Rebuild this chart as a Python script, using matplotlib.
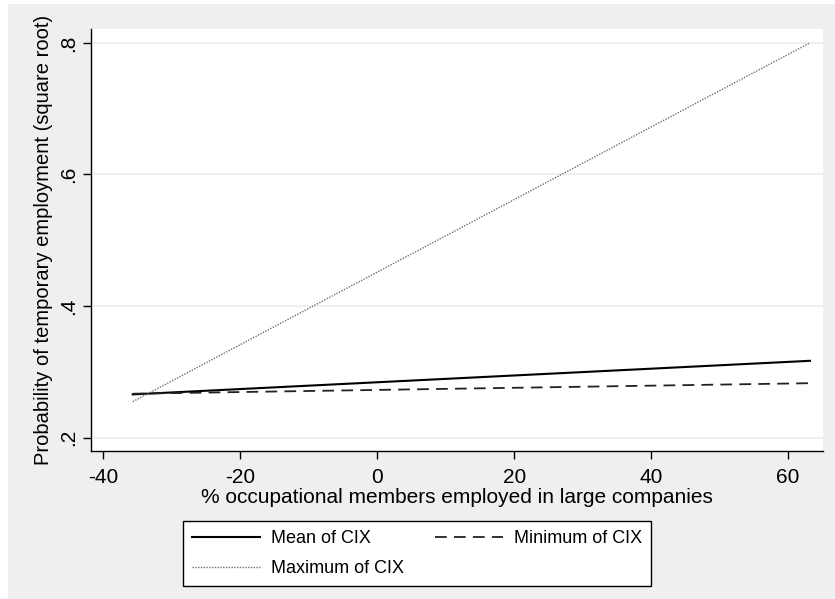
import matplotlib.pyplot as plt
from matplotlib.patches import Rectangle

# data (line endpoints)
x_vals = [-35.7, 63.2]
mean_cix = [0.266, 0.317]
min_cix = [0.267, 0.283]
max_cix = [0.255, 0.800]

x_ticks = [-40, -20, 0, 20, 40, 60]
y_ticks = [0.2, 0.4, 0.6, 0.8]
y_ticklabels = [".2", ".4", ".6", ".8"]


def main():
    plt.rcParams['font.family'] = ['Liberation Sans', 'DejaVu Sans']
    fig = plt.figure(figsize=(8.35, 5.99), dpi=100, facecolor='white')
    # Stata-like gray outer region
    fig.patches.append(Rectangle((8 / 835, 0), 1, 1 - 4 / 599, transform=fig.transFigure,
                                 facecolor='#efefef', edgecolor='none', zorder=-10))

    ax = fig.add_axes([91 / 835, 1 - 451 / 599, (823 - 91) / 835, (451 - 29) / 599])
    ax.set_facecolor('white')

    ax.plot(x_vals, mean_cix, color='black', lw=1.5, label='Mean of CIX')
    ax.plot(x_vals, max_cix, color='#707070', lw=1.0, linestyle=(0, (1, 1)), label='Maximum of CIX')
    ax.plot(x_vals, min_cix, color='#222222', lw=1.3, linestyle=(0, (6.5, 4)), label='Minimum of CIX')

    ax.set_xlim(-41.8, 65.1)
    ax.set_ylim(0.180, 0.821)
    ax.set_xticks(x_ticks)
    ax.set_xticklabels([str(t) for t in x_ticks])
    ax.set_yticks(y_ticks)
    ax.set_yticklabels(y_ticklabels, rotation=90, va='center')
    ax.tick_params(axis='both', labelsize=15, length=6, width=1, direction='out')
    ax.tick_params(axis='x', pad=6)
    ax.tick_params(axis='y', pad=3)
    ax.grid(axis='y', color='#ececec', lw=1.2)
    ax.set_axisbelow(True)
    for s in ['top', 'right']:
        ax.spines[s].set_visible(False)
    for s in ['left', 'bottom']:
        ax.spines[s].set_linewidth(1.0)

    ax.set_xlabel("% occupational members employed in large companies", fontsize=15, labelpad=1)
    ax.set_ylabel("Probability of temporary employment (square root)", fontsize=14.5, labelpad=5)

    fig.legend(loc='center', bbox_to_anchor=(417 / 835, 1 - 553.5 / 599), ncol=2,
               fontsize=13, frameon=True, fancybox=False, edgecolor='black',
               handlelength=3.8, handletextpad=0.6, columnspacing=1.7,
               labelspacing=0.7, borderpad=0.5, borderaxespad=0, framealpha=1)

    fig.savefig("out.png", dpi=100, facecolor=fig.get_facecolor())
    plt.close(fig)


if __name__ == "__main__":
    main()
